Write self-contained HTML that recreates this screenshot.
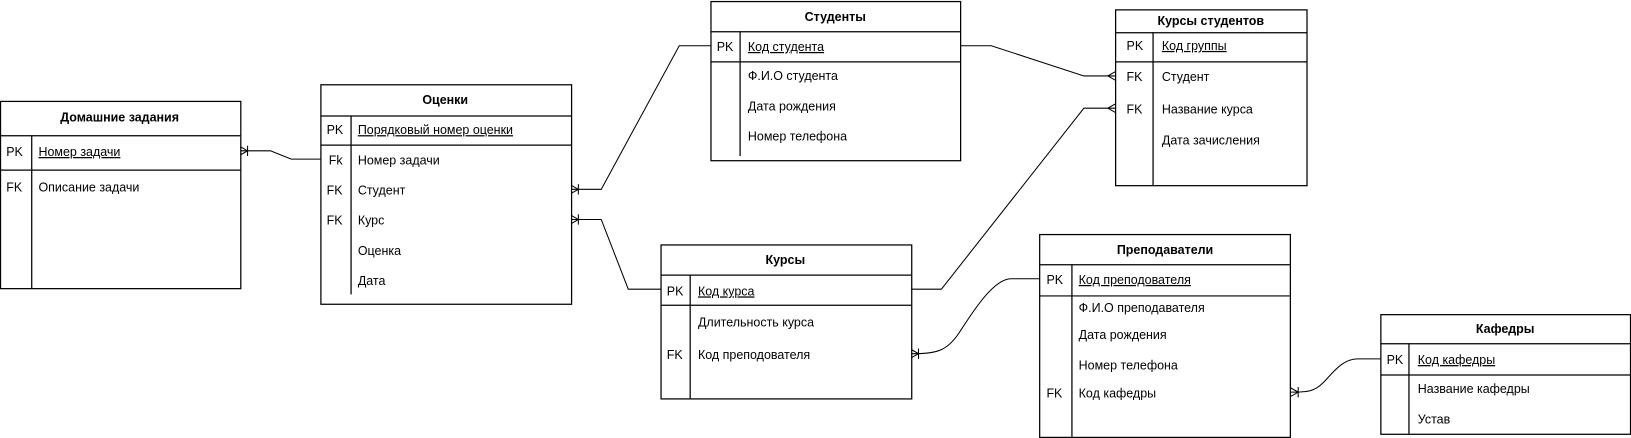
<!DOCTYPE html>
<html><head><meta charset="utf-8"><style>
html,body{margin:0;padding:0;background:#fff;overflow:hidden;}
svg{display:block;}
text{font-family:"Liberation Sans","Noto Sans CJK SC",sans-serif;font-size:12px;fill:#000;}
.b{font-weight:bold;}
</style></head><body>
<svg width="1631" height="438" viewBox="0 0 1631 438" xmlns="http://www.w3.org/2000/svg">
<g transform="scale(1.0402)">
<g fill="none" stroke="#000" stroke-width="1.2">
<rect x="0.5" y="97.5" width="231" height="180"/>
<line x1="0" y1="130.5" x2="231" y2="130.5"/>
<line x1="0" y1="163.5" x2="231" y2="163.5"/>
<line x1="30.5" y1="130" x2="30.5" y2="277"/>
<rect x="308.5" y="81.5" width="241" height="211"/>
<line x1="308" y1="111.5" x2="549" y2="111.5"/>
<line x1="308" y1="139.5" x2="549" y2="139.5"/>
<line x1="337.5" y1="111" x2="337.5" y2="283"/>
<rect x="683.5" y="1.5" width="240" height="153"/>
<line x1="683" y1="30.5" x2="923" y2="30.5"/>
<line x1="683" y1="59.5" x2="923" y2="59.5"/>
<line x1="711.5" y1="30" x2="711.5" y2="150"/>
<rect x="1072.5" y="9.5" width="184" height="169"/>
<line x1="1072" y1="31.5" x2="1256" y2="31.5"/>
<line x1="1072" y1="59.5" x2="1256" y2="59.5"/>
<line x1="1108.5" y1="31" x2="1108.5" y2="178"/>
<rect x="635.5" y="235.5" width="241" height="148"/>
<line x1="635" y1="264.5" x2="876" y2="264.5"/>
<line x1="635" y1="293.5" x2="876" y2="293.5"/>
<line x1="663.5" y1="264" x2="663.5" y2="383"/>
<rect x="999.5" y="225.5" width="241" height="195"/>
<line x1="999" y1="254.5" x2="1240" y2="254.5"/>
<line x1="999" y1="284.5" x2="1240" y2="284.5"/>
<line x1="1030.5" y1="254" x2="1030.5" y2="420"/>
<rect x="1327.5" y="302.5" width="240" height="115"/>
<line x1="1327" y1="330.5" x2="1567" y2="330.5"/>
<line x1="1327" y1="360.5" x2="1567" y2="360.5"/>
<line x1="1354.5" y1="330" x2="1354.5" y2="417"/>
</g>
<g fill="none" stroke="#000" stroke-width="1">
<polyline points="231,145 260,145 280,153 308,153"/>
<path d="M231,141 L238,145 L231,149 M238,140 L238,150"/>
<polyline points="549,182 578,182 653,44 683,44"/>
<path d="M549,178 L556,182 L549,186 M556,177 L556,187"/>
<polyline points="549,211 578,211 604,278 635,278"/>
<path d="M549,207 L556,211 L549,215 M556,206 L556,216"/>
<polyline points="923,44 953,44 1042,73 1072,73"/>
<path d="M1072,69 L1065,73 L1072,77"/>
<polyline points="876,278 905,278 1042,104 1072,104"/>
<path d="M1072,100 L1065,104 L1072,108"/>
<path d="M999,268 L972,268 C955,268 935,300 922,320 C910,338 900,340 876,340"/>
<path d="M876,336 L883,340 L876,344 M883,335 L883,345"/>
<path d="M1327,345 L1305,345 C1290,345 1280,360 1272,368 C1264,376 1258,377 1241,377"/>
<path d="M1241,373 L1248,377 L1241,381 M1248,372 L1248,382"/>
</g>
<text class="b" x="115" y="117" text-anchor="middle">Домашние задания</text>
<text x="6" y="150">PK</text><text x="37" y="150" text-decoration="underline">Номер задачи</text>
<text x="6" y="184">FK</text><text x="37" y="184">Описание задачи</text>

<text class="b" x="428" y="100" text-anchor="middle">Оценки</text>
<text x="314" y="129">PK</text><text x="344" y="129" text-decoration="underline">Порядковый номер оценки</text>
<text x="316" y="158">Fk</text><text x="344" y="158">Номер задачи</text>
<text x="314" y="187">FK</text><text x="344" y="187">Студент</text>
<text x="314" y="216">FK</text><text x="344" y="216">Курс</text>
<text x="344" y="245">Оценка</text>
<text x="344" y="274">Дата</text>

<text class="b" x="803" y="20" text-anchor="middle">Студенты</text>
<text x="689" y="49">PK</text><text x="719" y="49" text-decoration="underline">Код студента</text>
<text x="719" y="77">Ф.И.О студента</text>
<text x="719" y="106">Дата рождения</text>
<text x="719" y="135">Номер телефона</text>

<text class="b" x="1164" y="24" text-anchor="middle">Курсы студентов</text>
<text x="1083" y="48">PK</text><text x="1117" y="48" text-decoration="underline">Код группы</text>
<text x="1083" y="78">FK</text><text x="1117" y="78">Студент</text>
<text x="1083" y="109">FK</text><text x="1117" y="109">Название курса</text>
<text x="1117" y="139">Дата зачисления</text>

<text class="b" x="755" y="254" text-anchor="middle">Курсы</text>
<text x="641" y="284">PK</text><text x="671" y="284" text-decoration="underline">Код курса</text>
<text x="671" y="314">Длительность курса</text>
<text x="641" y="345">FK</text><text x="671" y="345">Код преподователя</text>

<text class="b" x="1120" y="244" text-anchor="middle">Преподаватели</text>
<text x="1006" y="273">PK</text><text x="1037" y="273" text-decoration="underline">Код преподователя</text>
<text x="1037" y="300">Ф.И.О преподавателя</text>
<text x="1037" y="326">Дата рождения</text>
<text x="1037" y="355">Номер телефона</text>
<text x="1006" y="382">FK</text><text x="1037" y="382">Код кафедры</text>

<text class="b" x="1447" y="320" text-anchor="middle">Кафедры</text>
<text x="1333" y="350">PK</text><text x="1363" y="350" text-decoration="underline">Код кафедры</text>
<text x="1363" y="378">Название кафедры</text>
<text x="1363" y="407">Устав</text>
</g>
</svg>
</body></html>
